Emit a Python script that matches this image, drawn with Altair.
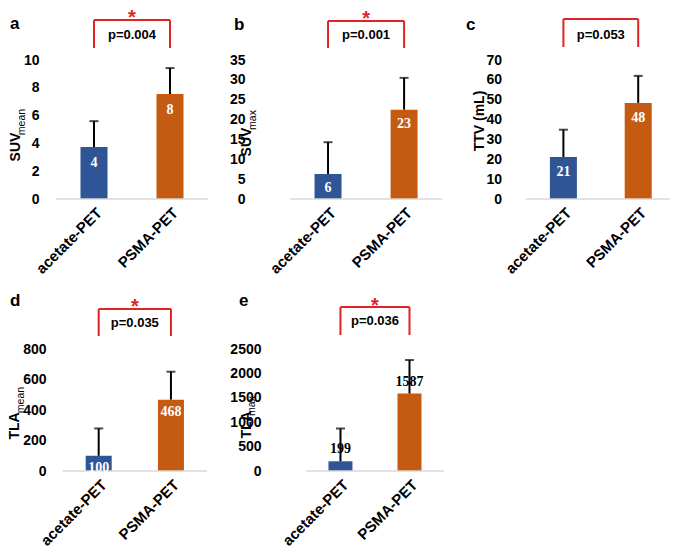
import altair as alt
import pandas as pd

# ---------------- data ----------------
categories = ["acetate-PET", "PSMA-PET"]
panel_letters = ["a", "b", "c", "d", "e"]
y_titles = ["SUV", "SUV", "TTV (mL)", "TLA", "TLA"]
y_subs = ["mean", "max", "", "mean", "max"]
means = [[3.74, 7.55], [6.3, 22.5], [21.1, 48.4], [100, 468], [199, 1587]]
errors = [[1.86, 1.87], [8.0, 8.0], [13.8, 13.6], [179, 183], [672, 687]]
bar_labels = [["4", "8"], ["6", "23"], ["21", "48"], ["100", "468"], ["199", "1587"]]
p_values = ["p=0.004", "p=0.001", "p=0.053", "p=0.035", "p=0.036"]
significant = [True, True, False, True, True]
y_ticks = [
    [0, 2, 4, 6, 8, 10],
    [0, 5, 10, 15, 20, 25, 30, 35],
    [0, 10, 20, 30, 40, 50, 60, 70],
    [0, 200, 400, 600, 800],
    [0, 500, 1000, 1500, 2000, 2500],
]

# ---------------- styling / layout ----------------
BAR_COLORS = ["#2F5597", "#C55A11"]
RED = "#E02424"
FONT = "Liberation Sans"
SERIF = "Liberation Serif"

layout = [
    dict(w=162, h=139, unit=81, lpad=0, bar=27, ylp=12, dy=16, lc="white",
         main=(-35, 87), sub=(-29, 62), letter=(-41, -31), br=(-12, -40), pt=-25, st=-47),
    dict(w=164, h=139, unit=81, lpad=0, bar=27, ylp=40, dy=14, lc="white",
         main=(-38, 82), sub=(-32, 60), letter=(-51, -30), br=(-12, -39), pt=-25, st=-46),
    dict(w=154, h=139, unit=80, lpad=0, bar=27, ylp=19.5, dy=15, lc="white",
         main=(-41, 61), sub=None, letter=(-55, -30), br=(-13, -41), pt=-25, st=-48),
    dict(w=162, h=122, unit=77, lpad=7, bar=26, ylp=5, dy=12, lc="white",
         main=(-36, 77), sub=(-30, 51), letter=(-41, -43), br=(-13, -40), pt=-26, st=-47),
    dict(w=164, h=122, unit=73.5, lpad=17, bar=24, ylp=24, dy=-12, lc="black",
         main=(-38, 76), sub=(-33, 57), letter=(-46, -43), br=(-14, -42), pt=-28, st=-48),
]

label_expr = " : ".join(
    [f"datum.value == {k} ? '{c}'" for k, c in enumerate(categories[:-1])] + [f"'{categories[-1]}'"]
)


def make_panel(i):
    L = layout[i]
    n = len(categories)
    x0 = -0.5 - L["lpad"] / L["unit"]
    xdom = [x0, x0 + L["w"] / L["unit"]]
    xscale = alt.Scale(domain=xdom, nice=False, zero=False)
    yscale = alt.Scale(domain=[0, y_ticks[i][-1]], nice=False)
    x_axis = alt.Axis(values=list(range(n)), labelExpr=label_expr, labelAngle=-45,
                      labelFont=FONT, labelFontWeight="bold", labelFontSize=15, labelColor="black",
                      labelPadding=6, domain=False, ticks=False, grid=False, labelFlush=False,
                      labelOverlap=False, labelBound=False, title=None)
    y_axis = alt.Axis(values=y_ticks[i], format="d", labelFont=FONT, labelFontWeight="bold",
                      labelFontSize=14, labelColor="black", labelPadding=L["ylp"],
                      domain=False, ticks=False, grid=False, labelFlush=False,
                      labelOverlap=False, labelBound=False, title=None)
    xs = alt.X("pos:Q", scale=xscale, axis=x_axis, title=None)
    ys = alt.Y("mean:Q", scale=yscale, axis=y_axis, title=None)

    df = pd.DataFrame({
        "pos": list(range(n)),
        "cat": categories,
        "mean": means[i],
        "err": errors[i],
        "label": bar_labels[i],
    })
    base = alt.Chart(df)

    bars = base.mark_bar(size=L["bar"]).encode(
        x=xs, y=ys,
        color=alt.Color("cat:N", scale=alt.Scale(domain=categories, range=BAR_COLORS), legend=None),
    )
    texts = base.mark_text(font=SERIF, fontWeight="bold", fontSize=14, color=L["lc"],
                           dy=L["dy"], baseline="middle").encode(x=xs, y=ys, text="label:N")
    err = base.transform_calculate(upper="datum.mean + datum.err").mark_rule(
        color="black", strokeWidth=2).encode(x=xs, y=ys, y2="upper:Q")
    cap = base.transform_calculate(mean="datum.mean + datum.err").mark_tick(
        orient="horizontal", size=9, thickness=2, color="black").encode(x=xs, y=ys)

    bl = pd.DataFrame({"pos": [-0.5], "pos2": [min(n - 0.5, xdom[1])], "mean": [0]})
    baseline = alt.Chart(bl).mark_rule(color="#D9D9D9", strokeWidth=1.5).encode(
        x=xs, x2="pos2:Q", y=ys)

    ends = pd.DataFrame({"pos": [0, n - 1]})
    span = pd.DataFrame({"pos": [0], "pos2": [n - 1]})
    mid = pd.DataFrame({"pos": [(n - 1) / 2], "p": [p_values[i]]})
    top, bot = L["br"][1], L["br"][0]
    br_h = alt.Chart(span).mark_rule(color=RED, strokeWidth=2).encode(
        x=xs, x2="pos2:Q", y=alt.value(top))
    br_v = alt.Chart(ends).mark_rule(color=RED, strokeWidth=2).encode(
        x=xs, y=alt.value(bot), y2=alt.value(top))
    ptxt = alt.Chart(mid).mark_text(font=FONT, fontWeight="bold", fontSize=13, color="black",
                                    baseline="middle").encode(
        x=xs, y=alt.value(L["pt"]), text="p:N")

    layers = [bars, baseline, texts, err, cap, br_h, br_v, ptxt]
    if significant[i]:
        star = alt.Chart(mid).mark_text(text="*", font=FONT, fontWeight="bold", fontSize=20,
                                        color=RED, baseline="middle", dy=5).encode(
            x=xs, y=alt.value(L["st"]))
        layers.append(star)

    one = alt.Chart(pd.DataFrame({"k": [0]}))
    letter = one.mark_text(text=panel_letters[i], font=FONT, fontWeight="bold", fontSize=17,
                           color="black", align="left", baseline="alphabetic").encode(
        x=alt.value(L["letter"][0]), y=alt.value(L["letter"][1]))
    main = one.mark_text(text=y_titles[i], font=FONT, fontWeight="bold", fontSize=14,
                         color="black", angle=270, align="center", baseline="middle").encode(
        x=alt.value(L["main"][0]), y=alt.value(L["main"][1]))
    layers += [letter, main]
    if L["sub"] is not None and y_subs[i]:
        sub = one.mark_text(text=y_subs[i], font=FONT, fontSize=10.5, color="black", angle=270,
                            align="center", baseline="middle").encode(
            x=alt.value(L["sub"][0]), y=alt.value(L["sub"][1]))
        layers.append(sub)

    return alt.layer(*layers).properties(width=L["w"], height=L["h"])


panels = [make_panel(i) for i in range(5)]

chart = (
    alt.concat(*panels, columns=3, spacing={"row": 150, "column": 72}, bounds="flush", align="each")
    .properties(padding=0)
    .configure(font=FONT)
    .configure_view(stroke=None)
)

chart.save("out.html", embed_options={"renderer": "svg", "actions": False})
